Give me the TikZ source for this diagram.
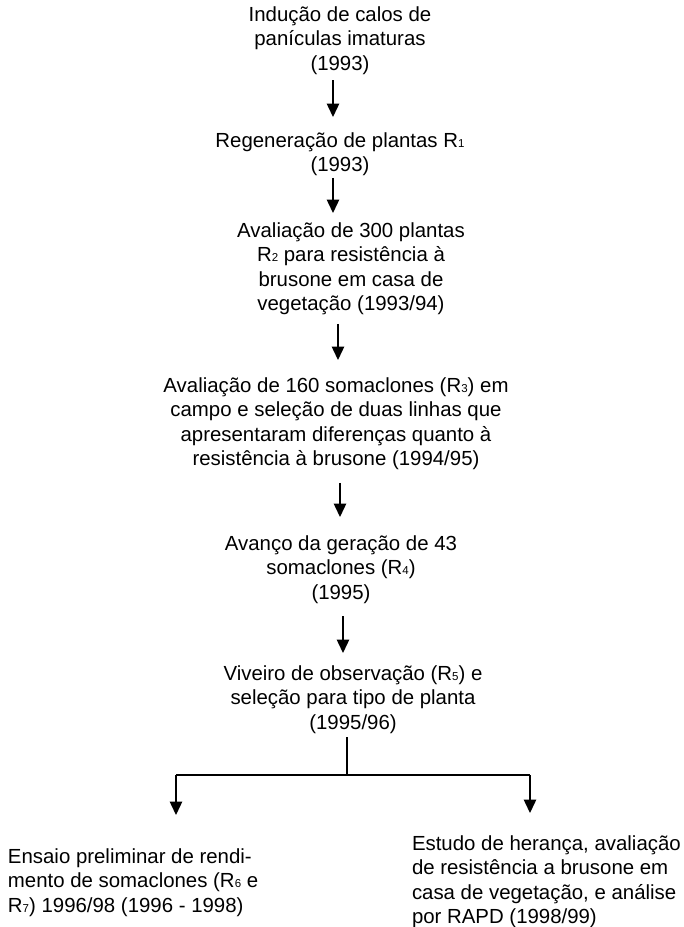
\documentclass[tikz,border=0pt]{standalone}
\usepackage{fontspec}
\setmainfont{Liberation Sans}
\usetikzlibrary{arrows.meta}
\newcommand\rsub[1]{{\fontsize{11.5}{11.5}\selectfont #1}}
\begin{document}
\begin{tikzpicture}[x=1pt,y=-1pt,
  txt/.style={inner sep=0pt,outer sep=0pt,align=center,anchor=north,font=\fontsize{20.4}{24.5}\selectfont},
  ltxt/.style={inner sep=0pt,outer sep=0pt,align=left,anchor=north west,font=\fontsize{20.4}{24.5}\selectfont},
  arr/.style={line width=1.4pt,-{Triangle[length=13.5pt,width=12.5pt]}},
  ln/.style={line width=1.4pt}]
\useasboundingbox[fill=white] (0,0) rectangle (684,927);
\node[txt] (n1) at (340,6.5) {Indução de calos de\\panículas imaturas\\(1993)};
\node[txt] (n2) at (340,132.5) {Regeneração de plantas R\rsub{1}\\(1993)};
\node[txt] (n3) at (351,222.5) {Avaliação de 300 plantas\\R\rsub{2} para resistência à\\brusone em casa de\\vegetação (1993/94)};
\node[txt] (n4) at (336,377.5) {Avaliação de 160 somaclones (R\rsub{3}) em\\campo e seleção de duas linhas que\\apresentaram diferenças quanto à\\resistência à brusone (1994/95)};
\node[txt] (n5) at (341,535.5) {Avanço da geração de 43\\somaclones (R\rsub{4})\\(1995)};
\node[txt] (n6) at (353,665.5) {Viveiro de observação (R\rsub{5}) e\\seleção para tipo de planta\\(1995/96)};
\node[ltxt] (n7) at (8,848.5) {Ensaio preliminar de rendi-\\mento de somaclones (R\rsub{6} e\\R\rsub{7}) 1996/98 (1996 - 1998)};
\node[ltxt] (n8) at (412,835.5) {Estudo de herança, avaliação\\de resistência a brusone em\\casa de vegetação, e análise\\por RAPD (1998/99)};
\draw[arr,shorten <=5.8pt,shorten >=15.5pt] ([xshift=-7pt]n1.south) -- ([xshift=-7pt]n2.north);
\draw[arr,shorten <=1.8pt,shorten >=9.5pt] ([xshift=-7pt]n2.south) -- ([xshift=-18pt]n3.north);
\draw[arr,shorten <=8.8pt,shorten >=17.5pt] ([xshift=-13pt]n3.south) -- ([xshift=2pt]n4.north);
\draw[arr,shorten <=12.8pt,shorten >=18.5pt] ([xshift=4pt]n4.south) -- ([xshift=-1pt]n5.north);
\draw[arr,shorten <=12.8pt,shorten >=12.5pt] ([xshift=2pt]n5.south) -- ([xshift=-10pt]n6.north);
\coordinate (split) at (347,775);
\coordinate (jl) at (176,775);
\coordinate (jr) at (530,775);
\draw[ln,shorten <=3.8pt] ([xshift=-6pt]n6.south) -- (split);
\draw[ln] (jl) -- (jr);
\draw[arr,shorten >=33.5pt] (jl) -- (jl |- n7.north);
\draw[arr,shorten >=22.5pt] (jr) -- (jr |- n8.north);
\end{tikzpicture}
\end{document}
